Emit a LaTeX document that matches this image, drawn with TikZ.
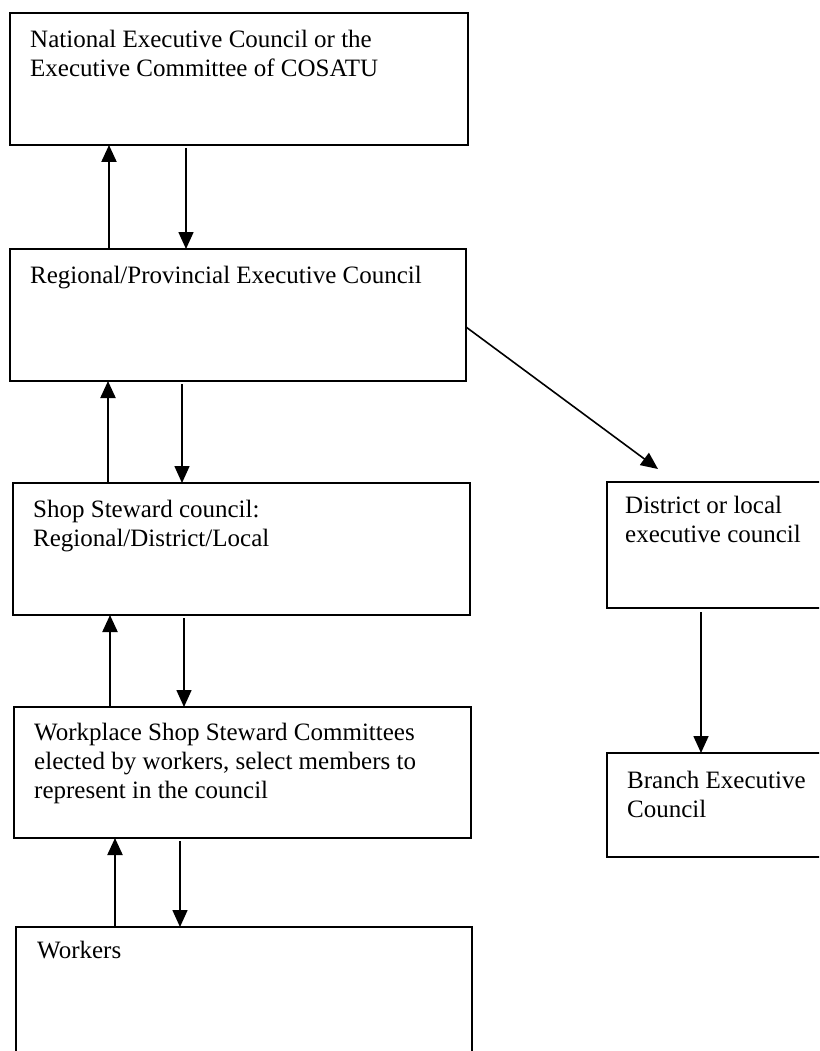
\documentclass[tikz,border=0pt]{standalone}
\usepackage{fontspec}
\setmainfont{Liberation Serif}
\usetikzlibrary{arrows.meta,calc}
\newcommand{\firstline}{\rule{0pt}{18pt}}
\begin{document}
\begin{tikzpicture}[x=1pt,y=-1pt,
  boxline/.style={draw=black,line width=2pt},
  boxtext/.style={anchor=north west,inner sep=0pt,align=left,font=\fontsize{25}{29}\selectfont},
  conn/.style={line width=2.2pt,-{Triangle[width=15pt,length=17pt]}},
  connthin/.style={line width=1.6pt,-{Triangle[width=15pt,length=17pt]}}]
\useasboundingbox (0,0) rectangle (819,1051);
\clip (0,0) rectangle (819,1051);
% boxes
\coordinate (b1a) at (10,13);   \coordinate (b1b) at (468,145);
\coordinate (b2a) at (10,249);  \coordinate (b2b) at (466,381);
\coordinate (b3a) at (13,483);  \coordinate (b3b) at (470,615);
\coordinate (b4a) at (14,707);  \coordinate (b4b) at (471,838);
\coordinate (b5a) at (16,927);  \coordinate (b5b) at (472,1070);
\coordinate (b6a) at (607,482); \coordinate (b6b) at (840,608);
\coordinate (b7a) at (607,753); \coordinate (b7b) at (840,857);
\foreach \b in {b1,b2,b3,b4,b5,b6,b7}{\draw[boxline] (\b a) rectangle (\b b);}
% texts (position = first baseline minus 18pt)
\node[boxtext] (t1) at (30,29) {\firstline National Executive Council or the\\Executive Committee of COSATU};
\node[boxtext] (t2) at (30,265) {\firstline Regional/Provincial Executive Council};
\node[boxtext] (t3) at (33,499) {\firstline Shop Steward council:\\Regional/District/Local};
\node[boxtext] (t4) at (34,722) {\firstline Workplace Shop Steward Committees\\elected by workers, select members to\\represent in the council};
\node[boxtext] (t5) at (37,940) {\firstline Workers};
\node[boxtext] (t6) at (625,495) {\firstline District or local\\executive council};
\node[boxtext] (t7) at (627,770) {\firstline Branch Executive\\Council};
% connector endpoints
\coordinate (u1s) at (109,249); \coordinate (u1e) at (109,145);
\coordinate (d1s) at (186,148); \coordinate (d1e) at (186,249);
\coordinate (u2s) at (108,483); \coordinate (u2e) at (108,381);
\coordinate (d2s) at (182,384); \coordinate (d2e) at (182,483);
\coordinate (u3s) at (110,707); \coordinate (u3e) at (110,615);
\coordinate (d3s) at (184,618); \coordinate (d3e) at (184,707);
\coordinate (u4s) at (115,927); \coordinate (u4e) at (115,838);
\coordinate (d4s) at (180,841); \coordinate (d4e) at (180,927);
\coordinate (dgs) at (466,327); \coordinate (dge) at (658,469);
\coordinate (d5s) at (701,612); \coordinate (d5e) at (701,753);
\draw[conn] (u1s) -- (u1e);
\draw[connthin] (d1s) -- (d1e);
\draw[conn] (u2s) -- (u2e);
\draw[connthin] (d2s) -- (d2e);
\draw[conn] (u3s) -- (u3e);
\draw[connthin] (d3s) -- (d3e);
\draw[conn] (u4s) -- (u4e);
\draw[connthin] (d4s) -- (d4e);
\draw[connthin] (dgs) -- (dge);
\draw[connthin] (d5s) -- (d5e);
\end{tikzpicture}
\end{document}
